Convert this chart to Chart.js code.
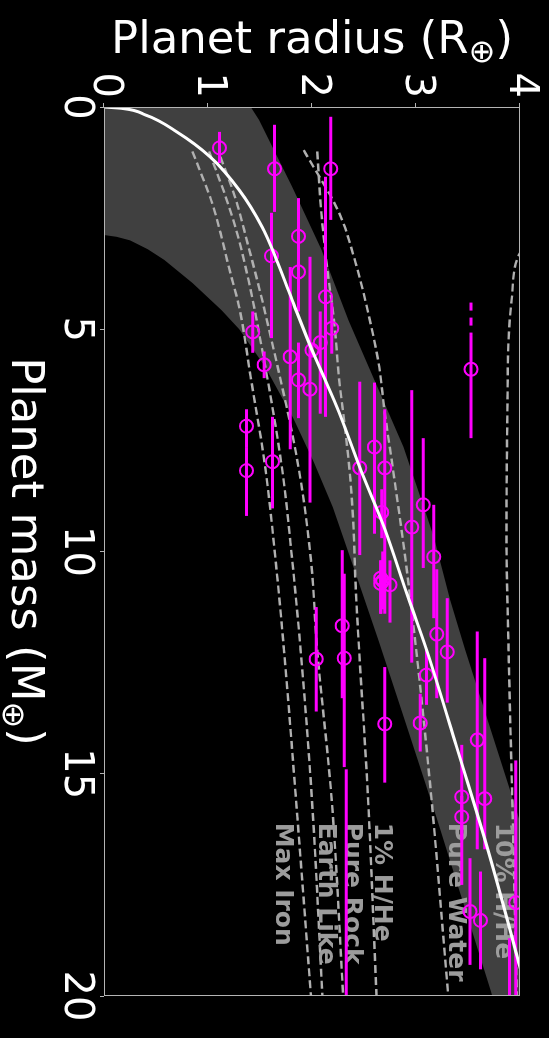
<!DOCTYPE html>
<html>
<head>
<meta charset="utf-8">
<script src="https://cdn.jsdelivr.net/npm/chart.js@4.4.1/dist/chart.umd.min.js"></script>
<style>
  html, body { margin: 0; padding: 0; background: #000; overflow: hidden; }
  /* the figure is drawn landscape (mass along x) and turned a quarter turn clockwise */
  #wrap { position: absolute; left: 0; top: 0; width: 1038px; height: 549px;
          transform-origin: 0 0; transform: translate(549px, 0) rotate(90deg); }
</style>
</head>
<body>
<div id="wrap"><canvas id="massRadius" width="1038" height="549"></canvas></div>
<script>
const massTicks = [0, 5, 10, 15, 20];
const radiusTicks = [0, 1, 2, 3, 4];

// best fit relation (white)
const fitMass   = [0, 0.03, 0.18, 0.56, 1.12, 1.87, 2.7, 3.5, 4.41, 5.47, 6.75, 8.23, 9.5, 10.87, 12.2, 14.24, 16.7, 19.35, 20.5];
const fitRadius = [0, 0.17, 0.4, 0.7, 1.02, 1.3, 1.52, 1.67, 1.82, 2.0, 2.24, 2.48, 2.7, 2.9, 3.1, 3.37, 3.69, 4.0, 4.13];

// grey band, upper and lower edge
const bandHiMass   = [0, 0.29, 1.8, 3.2, 4.8, 5.76, 7.65, 9.67, 11.1, 12.2, 15.7, 17.0, 20.5];
const bandHiRadius = [1.41, 1.49, 1.81, 2.09, 2.35, 2.53, 2.88, 3.17, 3.33, 3.47, 3.95, 4.12, 4.55];
const bandLoMass   = [0, 2.88, 2.92, 3.0, 3.2, 3.44, 3.96, 4.57, 5.0, 5.85, 7.0, 8.0, 9.0, 10.5, 12.0, 14.0, 16.0, 19.9, 20.5];
const bandLoRadius = [0, 0, 0.12, 0.25, 0.42, 0.58, 0.85, 1.13, 1.3, 1.55, 1.82, 2.02, 2.2, 2.42, 2.64, 2.92, 3.2, 3.72, 3.8];

// composition curves (dashed)
const maxIronMass   = [1.0, 2.16, 2.83, 3.6, 4.5, 6.07, 8.1, 10.2, 12.2, 16.0, 20.0];
const maxIronRadius = [0.85, 1.04, 1.12, 1.2, 1.3, 1.41, 1.55, 1.65, 1.73, 1.86, 1.99];
const earthMass     = [1.0, 2.02, 2.84, 3.9, 4.7, 8.1, 10.2, 12.2, 15.6, 20.0];
const earthRadius   = [1.01, 1.17, 1.28, 1.39, 1.46, 1.71, 1.81, 1.89, 2.0, 2.1];
const rockMass      = [1.12, 2.1, 3.06, 4.05, 4.63, 8.1, 10.2, 12.2, 15.6, 20.0];
const rockRadius    = [1.12, 1.27, 1.38, 1.49, 1.55, 1.87, 1.99, 2.05, 2.19, 2.3];
const hhe1Mass      = [1.0, 2.38, 3.5, 5.0, 6.1, 7.27, 8.4, 9.5, 10.8, 15.6, 20.0];
const hhe1Radius    = [2.05, 2.09, 2.14, 2.22, 2.26, 2.32, 2.37, 2.4, 2.42, 2.54, 2.62];
const waterMass     = [0.97, 2.38, 3.51, 4.63, 5.76, 6.88, 8.17, 10.2, 12.6, 15.6, 20.0];
const waterRadius   = [1.92, 2.26, 2.42, 2.54, 2.64, 2.7, 2.78, 2.9, 3.02, 3.15, 3.31];
const hhe10Mass     = [3.0, 3.33, 4.34, 5.24, 6.6, 9.6, 12.2, 16.0, 20.0];
const hhe10Radius   = [4.1, 3.99, 3.92, 3.89, 3.88, 3.87, 3.89, 3.93, 3.97];

const curveLabels = ['Max Iron', 'Earth Like', 'Pure Rock', '1% H/He', 'Pure Water', '10% H/He'];
const labelMass   = [16.1, 16.1, 16.1, 16.1, 16.1, 16.1];
const labelRadius = [1.72, 2.13, 2.38, 2.67, 3.38, 3.83];

// planets: mass, radius, mass error range
const ptMass   = [0.92, 1.39, 1.39, 2.91, 3.35, 3.71, 4.27, 4.98, 5.06, 5.30, 5.47, 5.62, 5.80, 5.90, 6.14, 6.35,
                  7.18, 8.18, 7.98, 7.65, 8.12, 8.12, 9.12, 9.45, 8.95, 10.12, 10.60, 10.66, 10.72, 10.75,
                  11.67, 12.40, 12.42, 11.86, 12.26, 12.78, 13.86, 13.88, 14.24, 15.52, 15.97, 15.56,
                  18.10, 18.30, 17.90, 22.0, 21.5];
const ptRadius = [1.11, 1.64, 2.18, 1.87, 1.61, 1.87, 2.13, 2.19, 1.43, 2.08, 2.00, 1.79, 1.54, 3.53, 1.87, 1.98,
                  1.37, 1.37, 1.62, 2.60, 2.46, 2.70, 2.67, 2.96, 3.07, 3.17, 2.66, 2.68, 2.66, 2.75,
                  2.29, 2.31, 2.04, 3.20, 3.30, 3.10, 3.04, 2.70, 3.59, 3.44, 3.44, 3.66,
                  3.52, 3.62, 3.96, 2.33, 3.90];
const ptMassLo = [0.56, 0.40, 0.22, 2.05, 2.38, 2.92, 1.57, 4.40, 4.60, 4.60, 5.30, 3.60, 5.50, 5.13, 5.30, 3.37,
                  6.80, 7.65, 6.97, 6.20, 6.18, 6.80, 8.60, 6.37, 7.45, 8.95, 10.2, 10.0, 10.2, 10.2,
                  9.97, 10.50, 11.25, 10.40, 11.05, 12.20, 13.20, 12.60, 11.80, 14.35, 15.50, 12.40,
                  16.90, 17.20, 14.70, 14.90, 18.70];
const ptMassHi = [1.26, 2.36, 2.54, 3.74, 5.20, 4.60, 6.97, 5.55, 5.53, 6.90, 5.60, 7.70, 6.10, 7.45, 7.00, 8.90,
                  7.65, 9.20, 9.03, 9.60, 10.08, 11.40, 9.70, 12.50, 10.37, 11.50, 11.4, 11.3, 11.4, 11.6,
                  13.30, 14.85, 13.60, 13.30, 13.40, 13.45, 14.50, 15.20, 16.70, 16.50, 17.50, 16.70,
                  19.30, 19.40, 21.00, 25.0, 24.0];
// dashed extension of one mass error bar
const dashLo = [4.40], dashHi = [5.13], dashRadius = [3.53];

const MAGENTA = '#ff00ff';
const pts = (xs, ys) => xs.map((v, i) => ({x: v, y: ys[i]}));

function curve(label, xs, ys) {
  return {
    label: label, data: pts(xs, ys), showLine: true, fill: false,
    borderColor: '#b0b0b0', borderWidth: 2.4, borderDash: [8, 4],
    pointRadius: 0, cubicInterpolationMode: 'monotone', order: 5
  };
}

// band polygon: along the upper edge, back along the lower edge
const bandData = pts(bandHiMass, bandHiRadius)
  .concat(pts(bandLoMass, bandLoRadius).reverse());

// error bars and curve labels, drawn right before the planet markers
const errorBars = {
  id: 'errorBars',
  beforeDatasetDraw(chart, args) {
    if (chart.data.datasets[args.index].label !== 'Planets') return;
    const {ctx, chartArea: a, scales: {x, y}} = chart;
    ctx.save();
    ctx.beginPath();
    ctx.rect(a.left, a.top, a.right - a.left, a.bottom - a.top);
    ctx.clip();

    ctx.fillStyle = '#9c9c9c';
    ctx.font = 'bold 25px "DejaVu Sans"';
    ctx.textAlign = 'left';
    ctx.textBaseline = 'middle';
    curveLabels.forEach((t, i) => {
      ctx.fillText(t, x.getPixelForValue(labelMass[i]), y.getPixelForValue(labelRadius[i]));
    });

    ctx.strokeStyle = MAGENTA;
    ctx.lineWidth = 3;
    ptMass.forEach((m, i) => {
      const py = y.getPixelForValue(ptRadius[i]);
      ctx.beginPath();
      ctx.moveTo(x.getPixelForValue(ptMassLo[i]), py);
      ctx.lineTo(x.getPixelForValue(ptMassHi[i]), py);
      ctx.stroke();
    });
    ctx.setLineDash([8, 7]);
    dashLo.forEach((m, i) => {
      const py = y.getPixelForValue(dashRadius[i]);
      ctx.beginPath();
      ctx.moveTo(x.getPixelForValue(dashLo[i]), py);
      ctx.lineTo(x.getPixelForValue(dashHi[i]), py);
      ctx.stroke();
    });
    ctx.restore();
  }
};

// frame and axis titles (with the subscript earth symbol)
const frameAndTitles = {
  id: 'frameAndTitles',
  afterDraw(chart) {
    const {ctx, chartArea: a} = chart;
    ctx.save();
    ctx.strokeStyle = '#b4b4b4';
    ctx.lineWidth = 1;
    ctx.strokeRect(a.left + 0.5, a.top + 0.5, a.right - a.left - 1, a.bottom - a.top - 1);

    function title(main, sub, cx, baseY, angle) {
      const big = '45px "DejaVu Sans"', small = '32px "DejaVu Sans"';
      ctx.save();
      ctx.translate(cx, baseY);
      ctx.rotate(angle);
      ctx.fillStyle = '#ffffff';
      ctx.textBaseline = 'alphabetic';
      ctx.textAlign = 'left';
      ctx.font = big;
      const w1 = ctx.measureText(main).width, w3 = ctx.measureText(')').width;
      ctx.font = small;
      const w2 = ctx.measureText(sub).width;
      let px = -(w1 + w2 + w3) / 2;
      ctx.font = big;
      ctx.fillText(main, px, 0);
      px += w1;
      ctx.font = small;
      ctx.fillText(sub, px, 9);
      px += w2;
      ctx.font = big;
      ctx.fillText(')', px, 0);
      ctx.restore();
    }
    title('Planet mass (M', '\u2295', (a.left + a.right) / 2, 537, 0);
    title('Planet radius (R', '\u2295', 53, (a.top + a.bottom) / 2, -Math.PI / 2);
    ctx.restore();
  }
};

const tickFont = {family: 'DejaVu Sans', size: 40, lineHeight: 1.2};

new Chart(document.getElementById('massRadius'), {
  type: 'scatter',
  data: {
    datasets: [
      { label: 'Fit', data: pts(fitMass, fitRadius), showLine: true, fill: false,
        borderColor: '#ffffff', borderWidth: 3, pointRadius: 0,
        cubicInterpolationMode: 'monotone', order: 1 },
      { label: 'Planets', data: pts(ptMass, ptRadius), showLine: false,
        pointStyle: 'circle', pointRadius: 6.5, pointBorderWidth: 2,
        pointBorderColor: MAGENTA, pointBackgroundColor: 'rgba(0,0,0,0)', order: 2 },
      curve('Max Iron', maxIronMass, maxIronRadius),
      curve('Earth Like', earthMass, earthRadius),
      curve('Pure Rock', rockMass, rockRadius),
      curve('1% H/He', hhe1Mass, hhe1Radius),
      curve('Pure Water', waterMass, waterRadius),
      curve('10% H/He', hhe10Mass, hhe10Radius),
      { label: 'Band', data: bandData, showLine: true, fill: 'shape',
        backgroundColor: 'rgba(255,255,255,0.25)', borderColor: 'rgba(0,0,0,0)',
        borderWidth: 0, pointRadius: 0, tension: 0, order: 9 }
    ]
  },
  options: {
    responsive: false,
    animation: false,
    devicePixelRatio: 1,
    events: [],
    layout: { padding: { top: 27, right: 42, left: 0, bottom: 0 } },
    plugins: { legend: { display: false }, tooltip: { enabled: false } },
    scales: {
      x: {
        type: 'linear', position: 'bottom', min: 0, max: 20,
        afterBuildTicks: s => { s.ticks = massTicks.map(v => ({value: v})); },
        afterFit: s => { s.height = 104; },
        grid: { drawOnChartArea: false, drawTicks: true, tickLength: 4, color: '#b4b4b4' },
        border: { display: false },
        ticks: { color: '#ffffff', font: tickFont, padding: 1, maxRotation: 0, autoSkip: false }
      },
      y: {
        type: 'linear', position: 'left', min: 0, max: 4,
        afterBuildTicks: s => { s.ticks = radiusTicks.map(v => ({value: v})); },
        afterFit: s => { s.width = 107; },
        grid: { drawOnChartArea: false, drawTicks: true, tickLength: 4, color: '#b4b4b4' },
        border: { display: false },
        ticks: { color: '#ffffff', font: tickFont, padding: 5, autoSkip: false }
      }
    }
  },
  plugins: [errorBars, frameAndTitles]
});
</script>
</body>
</html>
